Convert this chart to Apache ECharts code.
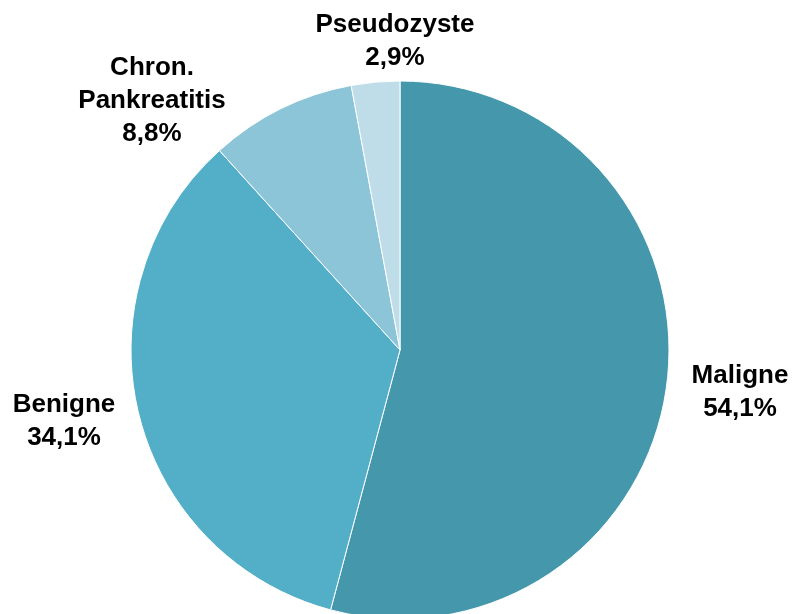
<!DOCTYPE html>
<html>
<head>
<meta charset="utf-8">
<script src="https://cdn.jsdelivr.net/npm/echarts@6/dist/echarts.min.js"></script>
<style>
  html, body { margin: 0; padding: 0; background: #fff; }
  #chart { width: 792px; height: 614px; }
</style>
</head>
<body>
<div id="chart"></div>
<script>
// Diagnosis categories (clockwise from 12 o'clock) and their shares in percent
const categories = ['Maligne', 'Benigne', 'Chron.\nPankreatitis', 'Pseudozyste'];
const shares = [54.1, 34.1, 8.8, 2.9];
const colors = ['#4598ac', '#53afc7', '#8dc5d8', '#bfdde8'];

// Label anchor points (centre of each multi-line label)
const labelAnchors = [[740, 392], [64, 421], [152, 101], [395, 41]];

const chart = echarts.init(document.getElementById('chart'), null, { renderer: 'canvas' });

chart.setOption({
  animation: false,
  backgroundColor: '#ffffff',
  series: [{
    type: 'pie',
    center: [400, 350],
    radius: [0, 269],
    startAngle: 90,
    clockwise: true,
    data: categories.map((name, i) => ({
      name: name,
      value: shares[i],
      itemStyle: { color: colors[i] }
    })),
    itemStyle: { borderColor: '#ffffff', borderWidth: 1 },
    label: {
      show: true,
      position: 'outside',
      overflow: 'none',
      formatter: p => p.name + '\n' + p.value.toFixed(1).replace('.', ',') + '%',
      fontFamily: 'Liberation Sans',
      fontWeight: 'bold',
      fontSize: 26,
      lineHeight: 33,
      color: '#000000',
      align: 'center'
    },
    labelLine: { show: false },
    labelLayout: params => {
      const a = labelAnchors[params.dataIndex];
      return { x: a[0], y: a[1], align: 'center', verticalAlign: 'middle' };
    },
    emphasis: { disabled: true }
  }]
});
</script>
</body>
</html>
